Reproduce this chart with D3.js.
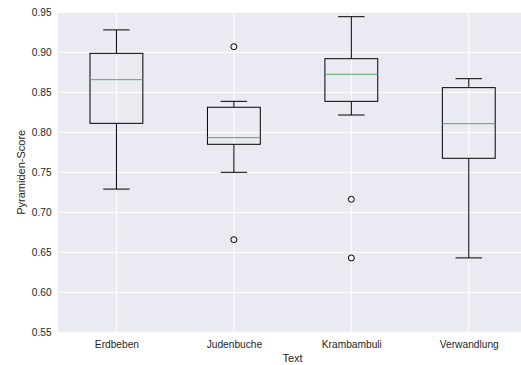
<!DOCTYPE html>
<html>
<head>
<meta charset="utf-8">
<script src="https://cdn.jsdelivr.net/npm/d3@7"></script>
<style>
html,body{margin:0;padding:0;background:#fff;}
svg{display:block;font-family:"Liberation Sans",Arial,sans-serif;}
</style>
</head>
<body>
<svg id="chart" width="521" height="365"></svg>
<script>
const categories = ["Erdbeben", "Judenbuche", "Krambambuli", "Verwandlung"];
const whiskerLow  = [0.729, 0.750, 0.8216, 0.643];
const q1          = [0.8112, 0.785, 0.8387, 0.7675];
const median      = [0.8658, 0.7933, 0.8725, 0.8108];
const q3          = [0.8987, 0.8313, 0.892, 0.8558];
const whiskerHigh = [0.928, 0.8387, 0.9445, 0.867];
const outliers    = [[], [0.907, 0.6658], [0.7163, 0.6429], []];
const yTicks = [0.55, 0.60, 0.65, 0.70, 0.75, 0.80, 0.85, 0.90, 0.95];
const xLabel = "Text";
const yLabel = "Pyramiden-Score";

const svg = d3.select("#chart");
const mLeft = 57.7, mRight = 527.5, mTop = 12.3, mBottom = 332.3;

const x = d3.scaleLinear().domain([0.5, 4.5]).range([mLeft, mRight]);
const y = d3.scaleLinear().domain([0.55, 0.95]).range([mBottom, mTop]);

svg.append("rect").attr("x", mLeft).attr("y", mTop)
  .attr("width", mRight - mLeft).attr("height", mBottom - mTop).attr("fill", "#EAEAF2");

// grid
const g = svg.append("g");
g.selectAll(".hg").data(yTicks).enter().append("line")
  .attr("x1", mLeft).attr("x2", mRight)
  .attr("y1", d => y(d)).attr("y2", d => y(d))
  .attr("stroke", "#fff").attr("stroke-width", 1);
g.selectAll(".vg").data(categories).enter().append("line")
  .attr("x1", (d, i) => x(i + 1)).attr("x2", (d, i) => x(i + 1))
  .attr("y1", mTop).attr("y2", mBottom)
  .attr("stroke", "#fff").attr("stroke-width", 1);

// axes (no domain, no ticks)
const yAxis = svg.append("g").attr("transform", `translate(${mLeft},0)`)
  .call(d3.axisLeft(y).tickValues(yTicks).tickFormat(d3.format(".2f")).tickSize(0).tickPadding(6));
yAxis.select(".domain").remove();
yAxis.selectAll("text").attr("fill", "#262626").style("font-size", "10.2px")
  .style("font-family", "Liberation Sans, Arial, sans-serif");

const xAxis = svg.append("g").attr("transform", `translate(0,${mBottom})`)
  .call(d3.axisBottom(x).tickValues([1, 2, 3, 4]).tickFormat(d => categories[d - 1]).tickSize(0).tickPadding(8));
xAxis.select(".domain").remove();
xAxis.selectAll("text").attr("fill", "#262626").style("font-size", "10.2px")
  .style("font-family", "Liberation Sans, Arial, sans-serif");

// labels
svg.append("text").attr("x", (mLeft + mRight) / 2).attr("y", 362)
  .attr("text-anchor", "middle").attr("fill", "#262626").style("font-size", "11px").text(xLabel);
svg.append("text").attr("transform", `translate(25,${(mTop + mBottom) / 2}) rotate(-90)`)
  .attr("text-anchor", "middle").attr("fill", "#262626").style("font-size", "11px").text(yLabel);

// boxes
const bw = 0.45, cw = 0.225;
const boxes = svg.append("g");
categories.forEach((c, i) => {
  const p = i + 1;
  const bg = boxes.append("g");
  bg.append("line").attr("x1", x(p)).attr("x2", x(p)).attr("y1", y(q3[i])).attr("y2", y(whiskerHigh[i]))
    .attr("stroke", "#000").attr("stroke-width", 1);
  bg.append("line").attr("x1", x(p)).attr("x2", x(p)).attr("y1", y(q1[i])).attr("y2", y(whiskerLow[i]))
    .attr("stroke", "#000").attr("stroke-width", 1);
  [whiskerHigh[i], whiskerLow[i]].forEach(v => {
    bg.append("line").attr("x1", x(p - cw / 2)).attr("x2", x(p + cw / 2)).attr("y1", y(v)).attr("y2", y(v))
      .attr("stroke", "#000").attr("stroke-width", 1);
  });
  bg.append("rect").attr("x", x(p - bw / 2)).attr("y", y(q3[i]))
    .attr("width", x(p + bw / 2) - x(p - bw / 2)).attr("height", y(q1[i]) - y(q3[i]))
    .attr("fill", "none").attr("stroke", "#000").attr("stroke-width", 1);
  bg.append("line").attr("x1", x(p - bw / 2)).attr("x2", x(p + bw / 2)).attr("y1", y(median[i])).attr("y2", y(median[i]))
    .attr("stroke", "#55A868").attr("stroke-width", 1);
  outliers[i].forEach(v => {
    bg.append("circle").attr("cx", x(p)).attr("cy", y(v)).attr("r", 3)
      .attr("fill", "none").attr("stroke", "#000").attr("stroke-width", 1);
  });
});
</script>
</body>
</html>
